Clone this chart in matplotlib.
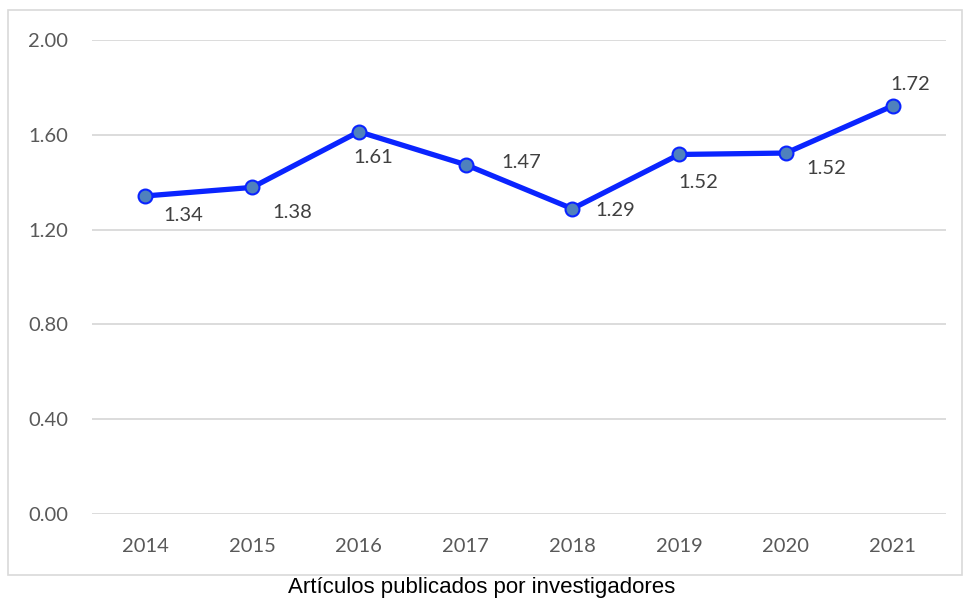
import matplotlib
matplotlib.use('Agg')
import matplotlib.pyplot as plt
from matplotlib.patches import Rectangle

years = ['2014', '2015', '2016', '2017', '2018', '2019', '2020', '2021']
values = [1.342, 1.378, 1.613, 1.474, 1.288, 1.517, 1.523, 1.722]
y_ticks = [0.0, 0.4, 0.8, 1.2, 1.6, 2.0]
caption = 'Artículos publicados por investigadores'

# label offsets in pixels (dx, dy) relative to each point
label_offsets = [(38, -20), (40, -25), (14, -26), (56, 2),
                 (43, -2), (19, -28), (40, -15), (18, 21)]

GRAY = '#595959'
GRID = '#D9D9D9'

fig = plt.figure(figsize=(9.63, 6), dpi=100)
fig.patches.append(Rectangle((8 / 963, 1 - 575 / 600), 954 / 963, 565 / 600,
                             transform=fig.transFigure, fill=False,
                             edgecolor=GRID, linewidth=1.2))

ax = fig.add_axes([92 / 963, 1 - 514 / 600, 854 / 963, 474 / 600])
x = list(range(len(years)))
ax.plot(x, values, color='#0A24FF', linewidth=3.8, marker='o', markersize=10,
        markerfacecolor='#4F81BD', markeredgecolor='#0A24FF',
        markeredgewidth=1.5, solid_capstyle='round', zorder=3)

for i, v in enumerate(values):
    ax.annotate(f'{v:.2f}', (x[i], v), xytext=label_offsets[i],
                textcoords='offset pixels', ha='center', va='center',
                fontsize=14.5, color='#404040', family='Lato')

ax.set_xlim(-0.5, len(years) - 0.5)
ax.set_ylim(0, 2.0)
ax.set_xticks(x)
ax.set_xticklabels(years, family='Lato', fontsize=14.5, color=GRAY)
ax.set_yticks(y_ticks)
ax.set_yticklabels([f'{t:.2f}' for t in y_ticks], family='Lato',
                   fontsize=14.5, color=GRAY)
ax.tick_params(axis='both', length=0)
ax.tick_params(axis='x', pad=17)
ax.tick_params(axis='y', pad=17)
ax.grid(axis='y', color=GRID, linewidth=1.3)
ax.set_axisbelow(True)
for s in ax.spines.values():
    s.set_visible(False)

fig.text(0.5, 1 - 588 / 600, caption, ha='center', va='center',
         fontsize=16, family='Liberation Sans', color='black')

fig.savefig('out.png', dpi=100)
